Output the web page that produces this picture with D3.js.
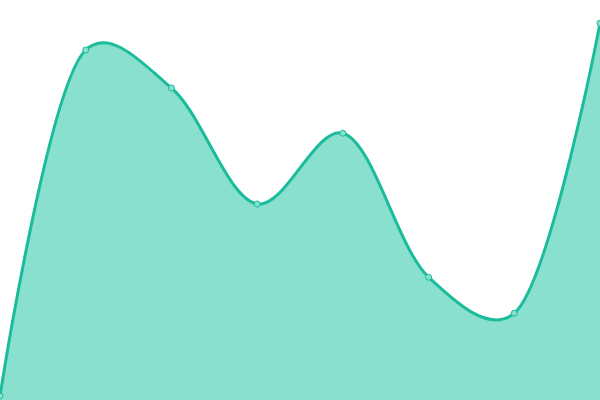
<!DOCTYPE html>
<html>
<head>
<meta charset="utf-8">
<title>Area</title>
<style>
  html, body { margin: 0; padding: 0; background: #fff; }
  svg { display: block; }
</style>
<script src="https://cdn.jsdelivr.net/npm/d3@7"></script>
</head>
<body>
<svg width="600" height="400"></svg>
<script>
// data
const categories = [0, 1, 2, 3, 4, 5, 6, 7];
const values = [1, 87.5, 78, 49, 66.7, 30.7, 21.7, 94.2];

const width = 600, height = 400;
const svg = d3.select("svg");

const x = d3.scaleLinear().domain([0, categories.length - 1]).range([0, width]);
const y = d3.scaleLinear().domain([0, 100]).range([height, 0]);

const data = categories.map((c, i) => ({ c: c, v: values[i] }));

const curve = d3.curveCatmullRom.alpha(0.3);

svg.append("path")
  .datum(data)
  .attr("fill", "#8ae0cf")
  .attr("d", d3.area().x(d => x(d.c)).y0(height).y1(d => y(d.v)).curve(curve));

svg.append("path")
  .datum(data)
  .attr("fill", "none")
  .attr("stroke", "#1abc9c")
  .attr("stroke-width", 3)
  .attr("d", d3.line().x(d => x(d.c)).y(d => y(d.v)).curve(curve));

svg.selectAll("circle")
  .data(data)
  .enter()
  .append("circle")
  .attr("cx", d => x(d.c))
  .attr("cy", d => y(d.v))
  .attr("r", 3)
  .attr("fill", "#8ae0cf")
  .attr("stroke", "#1abc9c")
  .attr("stroke-width", 1);
</script>
</body>
</html>
